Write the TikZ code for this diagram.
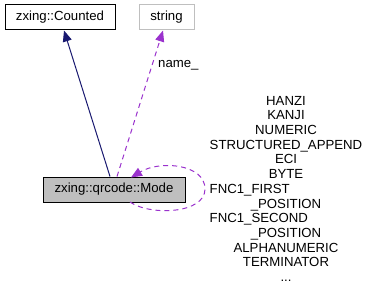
\documentclass[tikz,border=0pt]{standalone}
\usepackage{fontspec}
\setmainfont{Liberation Sans}
\usetikzlibrary{arrows.meta}
\definecolor{edgenavy}{HTML}{191970}
\definecolor{edgepurple}{HTML}{9A32CD}
\definecolor{boxgray}{HTML}{BFBFBF}
\tikzset{
  classbox/.style={draw=black, line width=1pt, inner sep=0pt, minimum height=25pt,
    font=\fontsize{13.2}{15}\selectfont},
  extbox/.style={draw=boxgray, line width=1pt, inner sep=0pt, minimum height=25pt,
    font=\fontsize{13.2}{15}\selectfont},
  focusbox/.style={classbox, fill=boxgray},
  inherit/.style={draw=edgenavy, line width=1pt,
    -{Triangle[length=11pt, width=9pt, fill=edgenavy]}},
  usage/.style={draw=edgepurple, line width=1pt, dash pattern=on 5pt off 4pt,
    -{Triangle[length=11pt, width=9pt, fill=edgepurple]}},
  edgelabel/.style={inner sep=0pt, font=\fontsize{13.2}{14.7}\selectfont}
}
\begin{document}
\begin{tikzpicture}[x=1pt, y=-1pt]
  \useasboundingbox (0,0) rectangle (371,291);

  % classes
  \node[classbox, minimum width=110pt] (counted) at (60,17.5) {zxing::Counted};
  \node[extbox, minimum width=55pt] (string) at (166.5,17.5) {string};
  \node[focusbox, minimum width=142pt] (mode) at (114,189.5) {zxing::qrcode::Mode};

  % base class
  \draw[inherit] (mode.north -| 110,0) -- (64,30.5);

  % member of type string
  \draw[usage] (mode.north -| 117,0) -- (163,30.5);
  \node[edgelabel, anchor=west] (namelbl) at (158,65) {name\_};

  % static members of its own type
  \coordinate (loopstart) at (130,202);
  \coordinate (loopend) at (131,177.5);
  \draw[usage] (loopstart) .. controls (150,216) and (205,214) .. (205,189)
    .. controls (205,164) and (160,160) .. (loopend);
  \node[edgelabel, anchor=north] (members) at (286,94.7) {%
    \begin{tabular}{@{}c@{}}
      HANZI\\
      KANJI\\
      NUMERIC\\
      STRUCTURED\_APPEND\\
      ECI\\
      BYTE\\
      \multicolumn{1}{@{}l@{}}{FNC1\_FIRST}\\
      \_POSITION\\
      \multicolumn{1}{@{}l@{}}{FNC1\_SECOND}\\
      \_POSITION\\
      ALPHANUMERIC\\
      TERMINATOR\\
      ...
    \end{tabular}};
\end{tikzpicture}
\end{document}
